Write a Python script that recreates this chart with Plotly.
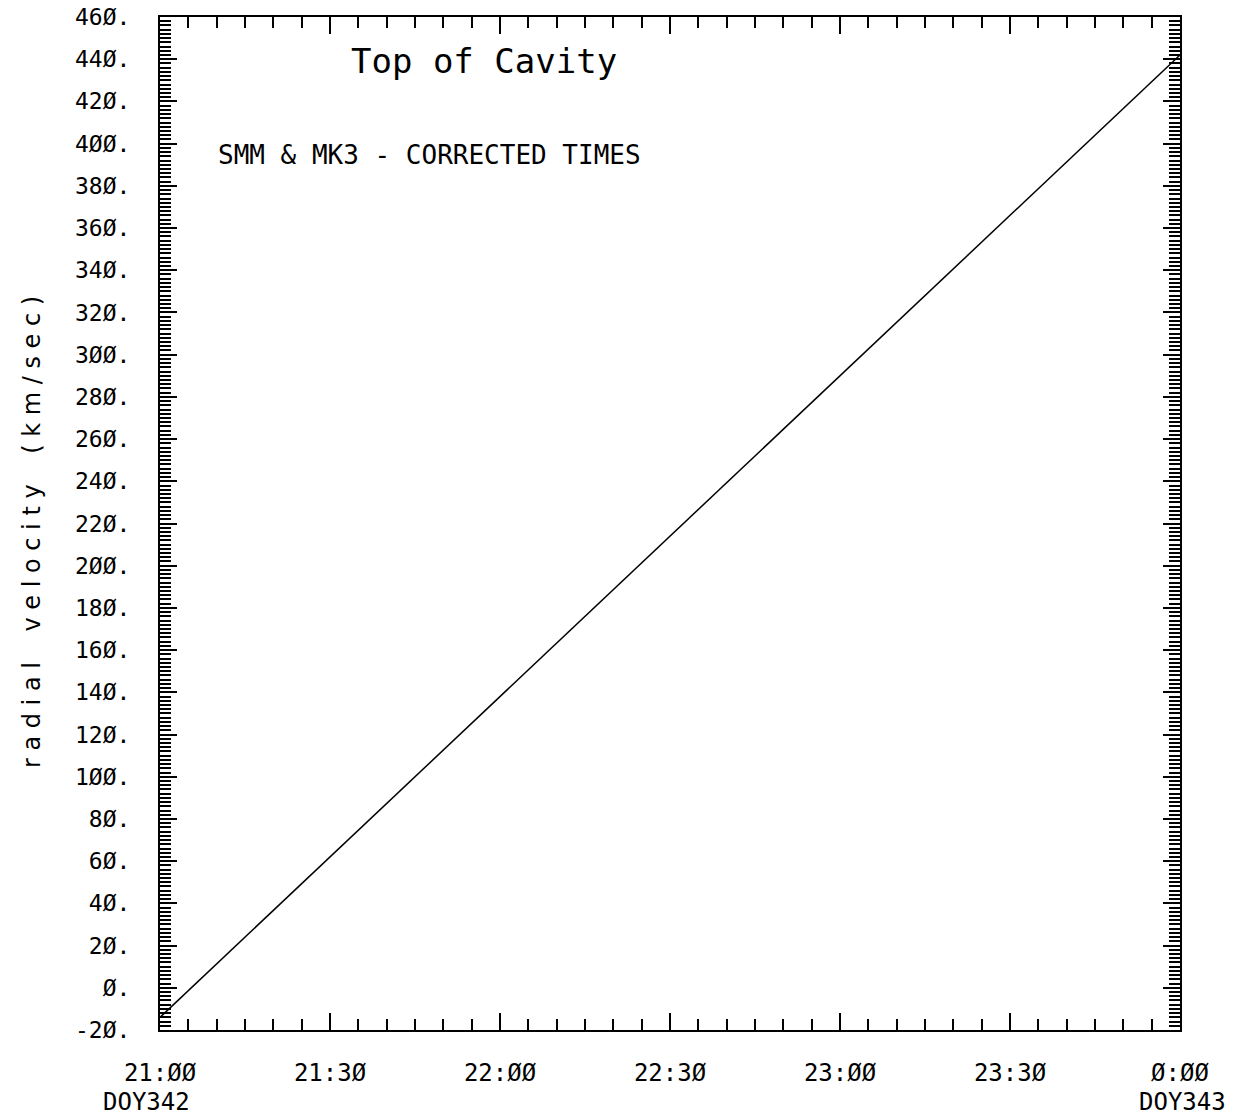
import plotly.graph_objects as go

# Data
times_hr = [21.0, 24.0]            # hours on DOY342 (24.0 = 0:00 DOY343)
velocity = [-14.0, 442.0]          # radial velocity (km/sec)

x_tickvals = [21.0, 21.5, 22.0, 22.5, 23.0, 23.5, 24.0]
x_ticktext = ["21:ØØ", "21:3Ø", "22:ØØ", "22:3Ø", "23:ØØ", "23:3Ø", "Ø:ØØ"]
day_labels = [(21.0, "DOY342"), (24.0, "DOY343")]

y_tickvals = list(range(-20, 461, 20))
y_ticktext = [(str(v) + ".").replace("0", "Ø") for v in y_tickvals]

FONT = "DejaVu Sans Mono"

fig = go.Figure()
fig.add_trace(go.Scatter(
    x=times_hr, y=velocity, mode="lines",
    line=dict(color="black", width=1.5),
    showlegend=False, hoverinfo="skip",
))

fig.update_xaxes(
    range=[21.0, 24.0],
    tickmode="array", tickvals=x_tickvals, ticktext=x_ticktext,
    ticks="inside", ticklen=17, tickwidth=1.5, tickcolor="black",
    minor=dict(dtick=5 / 60, tick0=21.0, ticks="inside", ticklen=11, tickwidth=1.5, tickcolor="black"),
    showline=True, linecolor="black", linewidth=2, mirror="allticks",
    showgrid=False, zeroline=False,
    tickfont=dict(family=FONT, size=24, color="black"),
    ticklabelstandoff=20, ticklabeloverflow="allow",
)
fig.update_yaxes(
    range=[-20, 460],
    tickmode="array", tickvals=y_tickvals, ticktext=y_ticktext,
    ticks="inside", ticklen=17, tickwidth=1.5, tickcolor="black",
    minor=dict(dtick=2, tick0=0, ticks="inside", ticklen=11, tickwidth=1.5, tickcolor="black"),
    showline=True, linecolor="black", linewidth=2, mirror="allticks",
    showgrid=False, zeroline=False,
    tickfont=dict(family=FONT, size=23, color="black"),
    ticklabelstandoff=23, ticklabeloverflow="allow",
)

for xv, txt in day_labels:
    fig.add_annotation(
        xref="x", yref="paper", x=xv, y=0, yshift=-72,
        text=txt, showarrow=False,
        font=dict(family=FONT, size=24, color="black"),
        xanchor="center", yanchor="middle",
        xshift=-14 if xv == 21.0 else 2,
    )

fig.add_annotation(
    xref="paper", yref="paper", x=-0.126, y=0.492,
    text="r a d i a l    v e l o c i t y    ( k m / s e c )",
    textangle=-90, showarrow=False,
    font=dict(family="DejaVu Sans", size=24, color="black"),
    xanchor="center", yanchor="middle",
)
fig.add_annotation(
    xref="paper", yref="paper", x=0.1855, y=0.9566,
    text="Top of Cavity", showarrow=False,
    font=dict(family=FONT, size=34, color="black"),
    xanchor="left", yanchor="middle",
)
fig.add_annotation(
    xref="paper", yref="paper", x=0.055, y=0.8635,
    text="SMM & MK3 - CORRECTED TIMES", showarrow=False,
    font=dict(family=FONT, size=26, color="black"),
    xanchor="left", yanchor="middle",
)

fig.update_layout(
    width=1235, height=1113,
    margin=dict(l=152, r=63, t=9, b=91, autoexpand=False),
    plot_bgcolor="white", paper_bgcolor="white",
)

fig.write_html("out.html")
